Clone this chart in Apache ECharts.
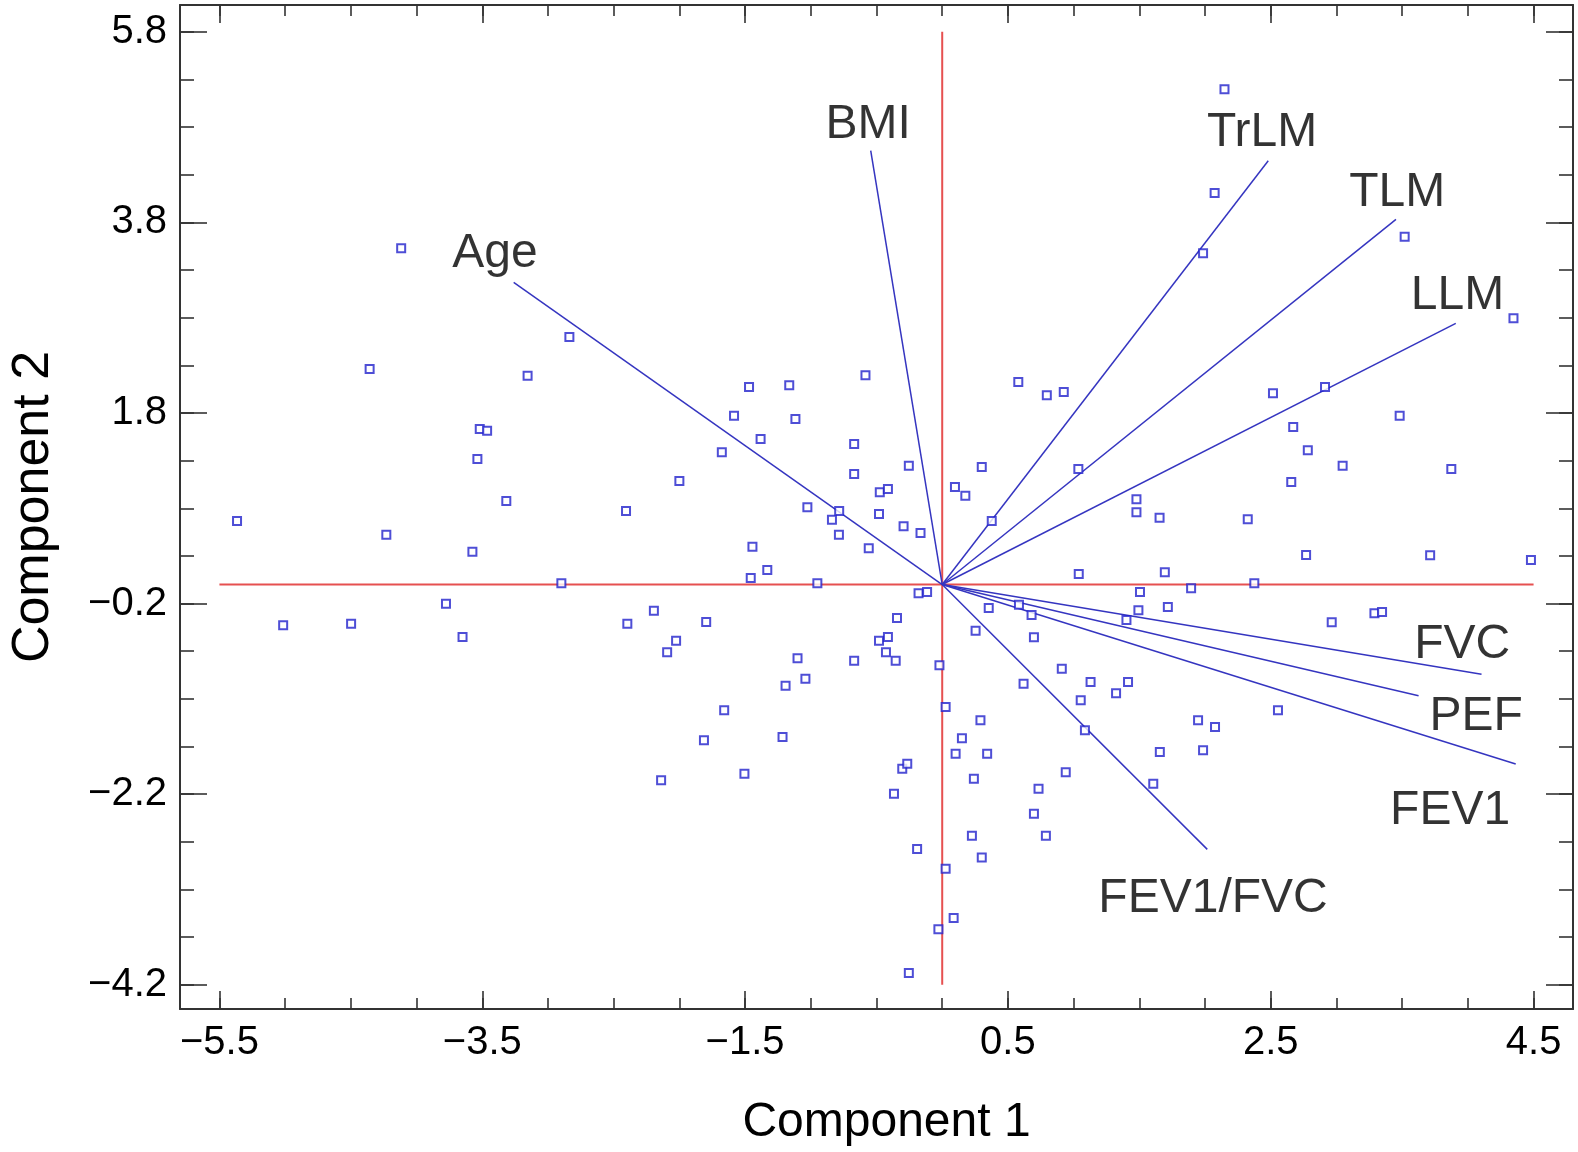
<!DOCTYPE html>
<html>
<head>
<meta charset="utf-8">
<script src="https://cdn.jsdelivr.net/npm/echarts@6/dist/echarts.min.js"></script>
<style>
  html, body { margin: 0; padding: 0; background: #fff; }
  #chart { width: 1578px; height: 1152px; }
</style>
</head>
<body>
<div id="chart"></div>
<script>
// ---- Scores (Component 1, Component 2) ----
const pc1 = [
  -4.117, -4.357, -2.837, -3.155, -3.519, -3.463, -3.537, -3.317, -2.406, -5.366,
  -4.230, -3.575, -2.898, -3.776, -5.015, -4.498, -3.650, -2.396, -2.194, -0.584,
  -1.470, -1.164, -1.584, -1.117, -1.382, -1.677, -0.670, -0.254, -2.000, -0.670,
  -0.475, -0.413, -1.026, -0.784, -0.839, -0.481, -0.294, -0.165, -0.786, -0.559,
  -1.444, -1.331, -1.457, -0.950, -0.180, -0.115, -1.796, -2.025, -2.093, -0.344,
  -0.481, -0.413, -0.428, -0.354, -0.670, -1.101, -0.021, -1.041, 0.354, 0.254,
  -1.192, -1.659, -1.813, -1.215, -2.139, -1.505, -0.304, -0.266, -0.367, -0.191,
  -0.254, 0.026, 0.291, 0.150, 0.102, 0.342, 0.241, 0.226, 0.301, 0.026,
  0.087, -0.029, 1.039, 1.694, 1.505, 1.894, 2.375, 0.584, 0.680, 1.493,
  1.717, 1.402, 2.964, 0.698, 0.910, 0.619, 1.129, 1.414, 1.323, 1.054,
  2.555, 1.947, 2.076, 1.086, 1.656, 1.985, 0.940, 1.606, 0.733, 0.698,
  0.789, 2.148, 2.073, 1.985, 0.579, 0.796, 0.925, 2.517, 2.913, 2.671,
  2.782, 2.656, 0.301, 0.097, 0.176, 0.377, 1.036, 1.478, 1.478, 1.654,
  2.325, 2.769, 3.519, 4.347, 3.481, 3.047, 3.874, 3.713, 4.480, 3.289,
  3.347
];
const pc2 = [
  3.528, 2.261, 2.597, 2.191, 1.632, 1.614, 1.317, 0.876, 0.771, 0.666,
  0.523, 0.344, 0.013, -0.201, -0.428, -0.411, -0.551, -0.411, -0.275, 2.195,
  2.072, 2.090, 1.771, 1.737, 1.527, 1.387, 1.474, 1.247, 1.086, 1.160,
  0.967, 1.002, 0.810, 0.771, 0.680, 0.740, 0.611, 0.540, 0.523, 0.380,
  0.397, 0.152, 0.068, 0.013, -0.092, -0.079, -0.393, -0.590, -0.711, -0.352,
  -0.590, -0.551, -0.711, -0.800, -0.800, -0.774, -0.848, -0.988, -0.247, -0.485,
  -1.062, -1.320, -1.635, -1.600, -2.055, -1.985, -1.933, -1.880, -2.195, -2.775,
  -4.077, -1.285, -1.425, -1.614, -1.775, -1.775, -2.038, -2.636, -2.863, -2.982,
  -3.499, -3.618, 0.110, 0.128, -0.079, -0.040, 0.013, -0.212, -0.320, -0.271,
  -0.236, -0.373, -0.397, -0.554, -0.884, -1.041, -1.023, -1.023, -1.142, -1.215,
  -1.320, -1.425, -1.495, -1.530, -1.758, -1.740, -1.971, -2.090, -2.143, -2.405,
  -2.636, 5.196, 4.108, 3.475, 2.125, 1.985, 2.020, 2.006, 2.072, 1.653,
  1.408, 1.076, 1.233, 1.023, 0.932, 0.666, 1.212, 0.894, 0.758, 0.701,
  0.684, 0.310, 3.650, 2.793, 1.771, 1.247, 1.212, 0.306, 0.257, -0.302,
  -0.289
];

// ---- Loadings (vector end points) ----
const varNames = ['Age', 'BMI', 'TrLM', 'TLM', 'LLM', 'FVC', 'PEF', 'FEV1', 'FEV1/FVC'];
const loadX = [-3.261, -0.544, 2.481, 3.453, 3.908, 4.104, 3.625, 4.364, 2.017];
const loadY = [3.171, 4.552, 4.447, 3.832, 2.741, -0.942, -1.167, -1.884, -2.779];
// text anchor (data coordinates) of each variable name
const labelX = [-3.403, -0.563, 2.434, 3.463, 3.921, 3.957, 4.063, 3.865, 2.061];
const labelY = [3.467, 4.820, 4.739, 4.109, 3.034, -0.630, -1.386, -2.372, -3.297];

// ---- Reference (zero) lines ----
const refXSpan = [-5.5, 4.5];
const refYSpan = [-4.2, 5.8];

// ---- Axes ----
const xRange = [-5.8, 4.8];
const yRange = [-4.454, 6.081];
const xMajorTicks = [-5.5, -3.5, -1.5, 0.5, 2.5, 4.5];
const xMinorTicks = [-5.5, -5, -4.5, -4, -3.5, -3, -2.5, -2, -1.5, -1, -0.5, 0, 0.5, 1, 1.5, 2, 2.5, 3, 3.5, 4, 4.5];
const yMajorTicks = [-4.2, -2.2, -0.2, 1.8, 3.8, 5.8];
const yMinorTicks = [-4.2, -3.7, -3.2, -2.7, -2.2, -1.7, -1.2, -0.7, -0.2, 0.3, 0.8, 1.3, 1.8, 2.3, 2.8, 3.3, 3.8, 4.3, 4.8, 5.3, 5.8];

const FONT = '"Liberation Sans", Arial, Helvetica, sans-serif';
const AXIS_COLOR = '#333333';
const fmt = v => (v < 0 ? '\u2212' : '') + Math.abs(v).toFixed(1);

function xAxisDef(pos, major, withLabel) {
  return {
    type: 'value', position: pos, min: xRange[0], max: xRange[1],
    axisLine: { show: major, onZero: false, lineStyle: { color: AXIS_COLOR, width: 2 } },
    axisTick: { show: true, inside: true, length: major ? 18 : 11,
      customValues: major ? xMajorTicks : xMinorTicks,
      lineStyle: { color: AXIS_COLOR, width: 1.6 } },
    axisLabel: withLabel ? { show: true, customValues: xMajorTicks, formatter: fmt,
      fontSize: 40, fontFamily: FONT, color: '#000', margin: 14 } : { show: false },
    splitLine: { show: false },
    name: withLabel ? 'Component 1' : '',
    nameLocation: 'middle', nameGap: 90,
    nameTextStyle: { fontSize: 48, fontFamily: FONT, color: '#000', padding: [0, 0, 0, 20] }
  };
}
function yAxisDef(pos, major, withLabel) {
  return {
    type: 'value', position: pos, min: yRange[0], max: yRange[1],
    axisLine: { show: major, onZero: false, lineStyle: { color: AXIS_COLOR, width: 2 } },
    axisTick: { show: true, inside: true, length: major ? 27 : 14,
      customValues: major ? yMajorTicks : yMinorTicks,
      lineStyle: { color: AXIS_COLOR, width: 1.6 } },
    axisLabel: withLabel ? { show: true, customValues: yMajorTicks, formatter: fmt,
      fontSize: 40, fontFamily: FONT, color: '#000', margin: 13 } : { show: false },
    splitLine: { show: false },
    name: withLabel ? 'Component 2' : '',
    nameLocation: 'middle', nameGap: 120, nameRotate: 90,
    nameTextStyle: { fontSize: 52, fontFamily: FONT, color: '#000' }
  };
}

const series = [];
// red zero lines
series.push({
  type: 'line', data: [[refXSpan[0], 0], [refXSpan[1], 0]], symbol: 'none',
  lineStyle: { color: '#e65050', width: 2 }, silent: true, z: 1
});
series.push({
  type: 'line', data: [[0, refYSpan[0]], [0, refYSpan[1]]], symbol: 'none',
  lineStyle: { color: '#e65050', width: 2 }, silent: true, z: 1
});
// loading vectors
varNames.forEach((n, i) => {
  series.push({
    type: 'line', data: [[0, 0], [loadX[i], loadY[i]]], symbol: 'none',
    lineStyle: { color: '#3535c0', width: 1.5 }, silent: true, z: 2
  });
});
// score points
series.push({
  type: 'scatter', symbol: 'rect', symbolSize: 8,
  data: pc1.map((x, i) => [x, pc2[i]]),
  itemStyle: { color: '#ffffff', borderColor: '#2222cc', borderWidth: 2 },
  z: 5, silent: true
});
// variable names
series.push({
  type: 'scatter', symbolSize: 0,
  data: varNames.map((n, i) => ({ name: n, value: [labelX[i], labelY[i]] })),
  label: { show: true, position: 'inside', formatter: p => p.name,
    fontSize: 48, fontFamily: FONT, color: '#000' },
  z: 6, silent: true
});

const chart = echarts.init(document.getElementById('chart'));
chart.setOption({
  animation: false,
  backgroundColor: '#ffffff',
  grid: { left: 174, right: 5, top: 5, bottom: 143, containLabel: false },
  xAxis: [
    xAxisDef('bottom', true, true),
    xAxisDef('bottom', false, false),
    xAxisDef('top', true, false),
    xAxisDef('top', false, false)
  ],
  yAxis: [
    yAxisDef('left', true, true),
    yAxisDef('left', false, false),
    yAxisDef('right', true, false),
    yAxisDef('right', false, false)
  ],
  series: series
});
</script>
</body>
</html>
